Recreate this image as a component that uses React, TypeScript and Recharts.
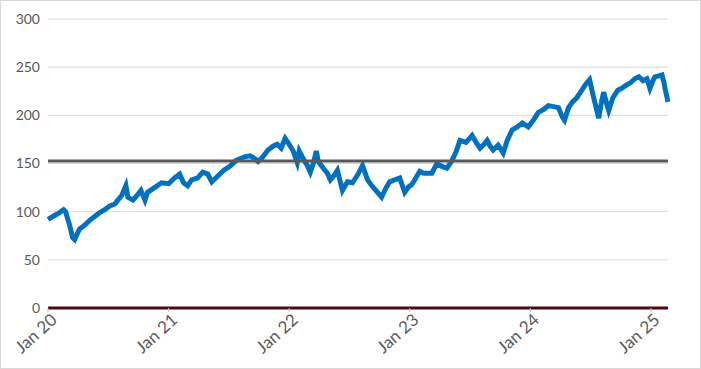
import { LineChart, Line, XAxis, YAxis, CartesianGrid, ReferenceLine } from 'recharts'

// months since Jan 2020
const months = [
    0, 0.65, 1.15, 1.55, 1.75, 2.15, 2.45, 2.65, 2.95, 3.15, 3.65, 4.15, 4.65, 5.15, 5.65, 6.15, 6.65, 6.95,
    7.35, 7.75, 7.95, 8.45, 8.95, 9.25, 9.65, 9.9, 10.6, 11.3, 12, 12.6, 13.1, 13.5, 13.9, 14.3, 14.9, 15.4,
    15.9, 16.3, 16.9, 17.5, 18.1, 18.7, 19.1, 19.6, 20.1, 20.6, 20.9, 21.3, 21.9, 22.4, 22.8, 23.2, 23.6, 24,
    24.4, 24.8, 25, 25.4, 25.8, 26.1, 26.4, 26.7, 26.9, 27.4, 27.8, 28.1, 28.5, 28.8, 29.3, 29.8, 30.3, 30.8,
    31.3, 31.8, 32.3, 32.8, 33.2, 33.6, 34, 34.5, 35, 35.5, 35.9, 36.2, 36.6, 37, 37.4, 37.7, 38.2, 38.7,
    39.2, 39.7, 40.2, 40.6, 41, 41.6, 42.2, 42.6, 43, 43.4, 43.7, 44, 44.3, 44.8, 45.3, 45.7, 46.2, 46.7,
    47.2, 47.8, 48.3, 48.8, 49.3, 49.8, 50.3, 50.8, 51.2, 51.4, 51.8, 52.2, 52.6, 53, 53.5, 53.9, 54.2, 54.5,
    54.8, 55.1, 55.3, 55.6, 55.8, 56.2, 56.7, 57.1, 57.5, 58, 58.4, 58.8, 59.2, 59.6, 59.9, 60.2, 60.4, 60.8,
    61.1, 61.3, 61.4, 61.7,
]

const prices = [
    92, 96, 99, 102, 100, 86, 73, 71, 78, 82, 86, 91, 95, 99, 102, 106, 108, 112,
    117, 127, 115, 112, 118, 122, 112, 120, 125, 130, 129, 135, 139, 130, 127, 133, 135, 141,
    139, 131, 137, 143, 147, 153, 155, 157, 158, 155, 152, 156, 164, 168, 170, 166, 176, 170,
    163, 151, 163, 155, 148, 141, 150, 163, 152, 145, 140, 133, 138, 143, 122, 131, 130, 138,
    148, 133, 126, 120, 115, 124, 131, 133, 135, 120, 126, 128, 135, 142, 140, 140, 140, 150,
    147, 145, 153, 162, 174, 172, 179, 172, 166, 170, 174, 168, 164, 169, 161, 174, 185, 188,
    192, 188, 195, 203, 206, 210, 209, 208, 198, 195, 208, 214, 218, 224, 232, 237, 223, 210,
    197, 215, 224, 212, 205, 218, 226, 228, 231, 234, 238, 240, 236, 238, 228, 236, 240, 241,
    242, 234, 228, 214,
]

const avgLevel = 152.6
const yTicks = [0, 50, 100, 150, 200, 250, 300]
const xTicks = [0, 12, 24, 36, 48, 60]
const xLabels = ['Jan 20', 'Jan 21', 'Jan 22', 'Jan 23', 'Jan 24', 'Jan 25']

const data = months.map((m, i) => ({ m, price: prices[i] }))

const font = 'Lato, "Open Sans", sans-serif'

const AngledTick = (props: any) => {
    const { x, y, payload, index } = props
    return (
        <g transform={`translate(${x + 6},${y + 3})`}>
            <text
                textAnchor="end"
                transform="rotate(-42)"
                style={{ fontSize: 17, fontFamily: font }}
                fill="#595959"
                dy={6}
            >
                {xLabels[index] ?? payload.value}
            </text>
        </g>
    )
}

export default function App() {
    document.body.style.margin = '0'
    return (
        <div style={{ width: 701, height: 369, border: '1px solid #D9D9D9', boxSizing: 'border-box', background: '#fff' }}>
            <LineChart
                width={699}
                height={367}
                data={data}
                margin={{ top: 18, right: 32, bottom: 0, left: 7 }}
            >
                <CartesianGrid vertical={false} stroke="#D9D9D9" />
                <XAxis
                    dataKey="m"
                    type="number"
                    domain={[0, 61.7]}
                    ticks={xTicks}
                    interval={0}
                    height={60}
                    tick={<AngledTick />}
                    tickSize={4}
                    tickLine={{ stroke: '#BFBFBF' }}
                    axisLine={false}
                />
                <YAxis
                    domain={[0, 300]}
                    ticks={yTicks}
                    width={40}
                    tickSize={0}
                    tickMargin={8}
                    axisLine={false}
                    tick={{ fontSize: 14, fill: '#595959', fontFamily: font }}
                />
                <Line
                    type="linear"
                    dataKey="price"
                    stroke="#0070C0"
                    strokeWidth={5}
                    dot={false}
                    isAnimationActive={false}
                />
                <ReferenceLine y={avgLevel} stroke="#595959" strokeWidth={3} />
                <ReferenceLine y={0} stroke="#4A0A12" strokeWidth={3} />
            </LineChart>
        </div>
    )
}
